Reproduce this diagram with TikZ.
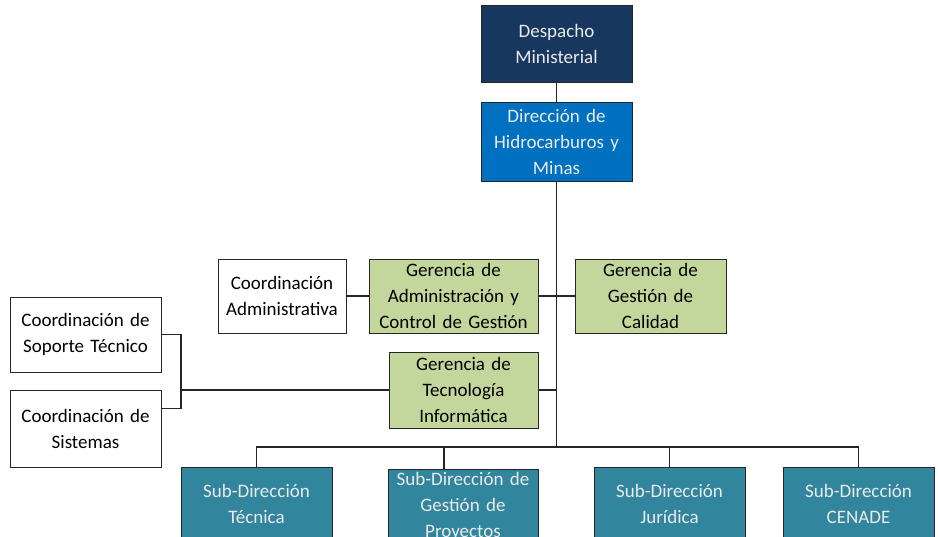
\documentclass[tikz,border=0pt]{standalone}
\usepackage{fontspec}
\setmainfont{Carlito}
\usetikzlibrary{calc}
\definecolor{despachoazul}{HTML}{17375E}
\definecolor{direccionazul}{HTML}{0070C0}
\definecolor{gerenciaverde}{HTML}{C3D69B}
\definecolor{subteal}{HTML}{31859C}
\tikzset{
  caja/.style={draw=black!85, line width=0.9pt, align=center, inner sep=1pt,
    font=\fontsize{19}{26}\selectfont},
  despacho/.style={caja, fill=despachoazul, text=white!92!black},
  direccion/.style={caja, fill=direccionazul, text=white!92!black},
  gerencia/.style={caja, fill=gerenciaverde, text=black},
  coord/.style={caja, fill=white, text=black},
  sub/.style={caja, fill=subteal, text=white!92!black, minimum height=73pt},
  linea/.style={draw=black!85, line width=1.2pt}
}
\begin{document}
\begin{tikzpicture}[x=1pt,y=-1pt]
      \clip (0,0) rectangle (938,537);
      \node[despacho, text width=149pt, minimum height=77pt] (despacho) at (556.5,43.5) {Despacho\\Ministerial};
      \node[direccion, text width=149pt, minimum height=79pt] (direccion) at (556.5,141.5) {Dirección de\\Hidrocarburos y\\Minas};
      \node[coord, text width=126pt, minimum height=74pt] (coordadm) at (282,296) {Coordinación\\Administrativa};
      \node[gerencia, text width=167pt, minimum height=74pt] (geradm) at (453.5,296) {Gerencia de\\Administración y\\Control de Gestión};
      \node[gerencia, text width=149pt, minimum height=74pt] (gercal) at (650.5,296) {Gerencia de\\Gestión de\\Calidad};
      \node[gerencia, text width=147pt, minimum height=76pt] (gertec) at (463.5,390) {Gerencia de\\Tecnología\\Informática};
      \node[coord, text width=149pt, minimum height=75pt] (coordsop) at (85.5,334.5) {Coordinación de\\Soporte Técnico};
      \node[coord, text width=149pt, minimum height=77pt] (coordsis) at (85.5,428.5) {Coordinación de\\Sistemas};
      \node[sub, text width=149pt] (subtec) at (256.5,503.5) {Sub-Dirección\\Técnica};
      \node[sub, text width=148pt] (subges) at (463,506) {Sub-Dirección de\\Gestión de\\Proyectos};
      \node[sub, text width=149pt] (subjur) at (669.5,503.5) {Sub-Dirección\\Jurídica};
      \node[sub, text width=149pt] (subcen) at (858.5,503.5) {Sub-Dirección\\CENADE};
      \coordinate (bus) at (557,447);
      \coordinate (brk) at (181,390);
      \begin{scope}[linea]
        \draw (despacho) to (direccion);
        \draw (direccion.south) to (direccion.south |- bus);
        \draw (coordadm) to (geradm);
        \draw (geradm) to (gercal);
        \draw (gertec.east) to (gertec.east -| bus);
        \draw (gertec) to (brk);
        \draw (coordsop.east) -| (brk) |- ($(coordsis.east)+(0,-20)$);
        \draw (subtec.north) |- (bus) -| (subcen.north);
        \draw ($(subges.north)+(-19,0)$) |- (bus);
        \draw (subjur.north) |- (bus);
      \end{scope}
    \end{tikzpicture}
\end{document}
